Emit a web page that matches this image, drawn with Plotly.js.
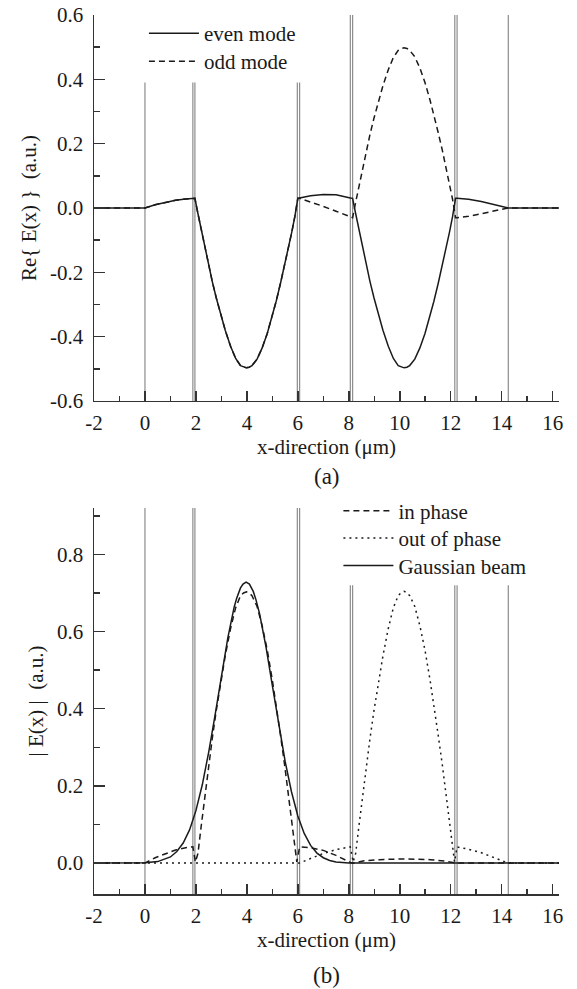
<!DOCTYPE html>
<html><head><meta charset="utf-8">
<script src="https://cdn.plot.ly/plotly-3.0.1.min.js"></script>
<style>html,body{margin:0;padding:0;background:#fff;} #chart{width:577px;height:989px;}</style>
</head><body><div id="chart"></div>
<script>
// ---------- panel (a): Re{E(x)} ----------
const xA = [-2, 0, 0.4, 0.8, 1.2, 1.6, 1.88, 1.96, 2.08, 2.2, 2.34, 2.5, 2.64, 2.8, 2.97, 3.15, 3.36, 3.56, 3.75, 3.87, 3.98, 4.09,
  4.2, 4.4, 4.6, 4.8, 5.0, 5.15, 5.32, 5.48, 5.62, 5.76, 5.88, 6.0, 6.07, 6.5, 7.0, 7.5, 8.06, 8.15,
  8.27, 8.39, 8.53, 8.69, 8.83, 8.99, 9.16, 9.34, 9.55, 9.75, 9.94, 10.06, 10.17, 10.28, 10.39, 10.59, 10.79, 10.99,
  11.19, 11.34, 11.51, 11.67, 11.81, 11.95, 12.07, 12.19, 12.25, 12.7, 13.2, 13.7, 14.26, 16.25];
const evenMode = [0, 0, 0.01, 0.018, 0.024, 0.028, 0.03, 0.03, -0.018, -0.065, -0.12, -0.178, -0.228, -0.28, -0.332, -0.38, -0.43, -0.468, -0.49, -0.495, -0.497, -0.495,
  -0.49, -0.47, -0.435, -0.39, -0.335, -0.29, -0.234, -0.18, -0.13, -0.076, -0.028, 0.03, 0.031, 0.038, 0.042, 0.041, 0.031, 0.03,
  -0.018, -0.065, -0.12, -0.178, -0.228, -0.28, -0.332, -0.38, -0.43, -0.468, -0.49, -0.495, -0.497, -0.495, -0.49, -0.47, -0.435, -0.39,
  -0.335, -0.29, -0.234, -0.18, -0.13, -0.076, -0.028, 0.03, 0.03, 0.027, 0.02, 0.01, 0, 0];
const oddMode = [0, 0, 0.01, 0.018, 0.024, 0.028, 0.03, 0.03, -0.018, -0.065, -0.12, -0.178, -0.228, -0.28, -0.332, -0.38, -0.43, -0.468, -0.49, -0.495, -0.497, -0.495,
  -0.49, -0.47, -0.435, -0.39, -0.335, -0.29, -0.234, -0.18, -0.13, -0.076, -0.028, 0.03, 0.03, 0.019, 0.005, -0.01, -0.027, -0.03,
  0.018, 0.065, 0.12, 0.178, 0.228, 0.28, 0.332, 0.38, 0.43, 0.468, 0.49, 0.496, 0.498, 0.496, 0.49, 0.47, 0.435, 0.39,
  0.335, 0.29, 0.234, 0.18, 0.13, 0.076, 0.028, -0.03, -0.03, -0.026, -0.018, -0.009, 0, 0];

// ---------- panel (b): |E(x)| ----------
const xInPhase = [-2, 0, 0.4, 0.8, 1.2, 1.6, 1.88, 1.98, 2.08, 2.2, 2.34, 2.5, 2.64, 2.8, 2.97, 3.15, 3.36, 3.56, 3.75, 3.87, 3.98, 4.09,
  4.2, 4.4, 4.6, 4.8, 5.0, 5.15, 5.32, 5.48, 5.62, 5.76, 5.88, 5.96, 6.07, 6.5, 7.0, 7.5, 8.06, 8.15,
  8.6, 9.2, 10.17, 11.2, 11.8, 12.19, 16.25];
const inPhase = [0, 0, 0.014, 0.025, 0.034, 0.04, 0.042, 0.003, 0.025, 0.092, 0.17, 0.252, 0.322, 0.396, 0.47, 0.537, 0.608, 0.662, 0.693, 0.7, 0.703, 0.7,
  0.693, 0.665, 0.615, 0.552, 0.474, 0.41, 0.331, 0.255, 0.184, 0.107, 0.04, 0.003, 0.042, 0.04, 0.033, 0.02, 0.002, 0,
  0.006, 0.009, 0.011, 0.009, 0.005, 0, 0];
const xOutPhase = [-2, 6.0, 6.07, 6.5, 7.0, 7.5, 8.06, 8.17, 8.27, 8.39, 8.53, 8.69, 8.83, 8.99, 9.16, 9.34, 9.55, 9.75, 9.94, 10.06, 10.17, 10.28,
  10.39, 10.59, 10.79, 10.99, 11.19, 11.34, 11.51, 11.67, 11.81, 11.95, 12.07, 12.15, 12.25, 12.7, 13.2, 13.7, 14.26, 16.25];
const outPhase = [0, 0, 0, 0.012, 0.025, 0.035, 0.042, 0.003, 0.025, 0.092, 0.17, 0.252, 0.322, 0.396, 0.47, 0.537, 0.608, 0.662, 0.693, 0.701, 0.704, 0.701,
  0.693, 0.665, 0.615, 0.552, 0.474, 0.41, 0.331, 0.255, 0.184, 0.107, 0.04, 0.003, 0.042, 0.036, 0.027, 0.015, 0, 0];
const xGauss = [-2, -0.5, 0, 0.5, 1.0, 1.25, 1.5, 1.75, 2.0, 2.25, 2.5, 2.75, 3.0, 3.25, 3.5, 3.6, 3.75, 3.85, 3.97,
  4.1, 4.25, 4.35, 4.5, 4.75, 5.0, 5.25, 5.5, 5.75, 6.0, 6.25, 6.5, 6.75, 7.0, 7.25, 7.5, 8.0, 16.25];
const gaussBeam = [0, 0, 0.001, 0.004, 0.016, 0.03, 0.052, 0.086, 0.136, 0.203, 0.287, 0.383, 0.486, 0.583, 0.663, 0.686, 0.713, 0.723, 0.728,
  0.723, 0.704, 0.684, 0.646, 0.56, 0.46, 0.358, 0.264, 0.185, 0.122, 0.077, 0.046, 0.026, 0.014, 0.007, 0.003, 0, 0];

// layer boundaries of the structure (vertical grey lines)
const layerEdges = [0, 1.88, 1.96, 5.98, 6.07, 8.06, 8.15, 12.16, 12.25, 14.26];

// ticks
const xTickVals = [-2, 0, 2, 4, 6, 8, 10, 12, 14, 16];
const xTickText = ["-2", "0", "2", "4", "6", "8", "10", "12", "14", "16"];
const xMinorVals = [-1, 1, 3, 5, 7, 9, 11, 13, 15];
const yaTickVals = [-0.6, -0.4, -0.2, 0, 0.2, 0.4, 0.6];
const yaTickText = ["-0.6", "-0.4", "-0.2", "0.0", "0.2", "0.4", "0.6"];
const yaMinorVals = [-0.5, -0.3, -0.1, 0.1, 0.3, 0.5];
const ybTickVals = [0, 0.2, 0.4, 0.6, 0.8];
const ybTickText = ["0.0", "0.2", "0.4", "0.6", "0.8"];
const ybMinorVals = [0.1, 0.3, 0.5, 0.7, 0.9];

const FONT = "'Liberation Serif', Tinos, 'DejaVu Serif', 'Noto Serif', Times, serif";
const INK = "#1a1a1a";
const AX = "#333333";
const GREY = "#8c8c8c";

const traces = [
  {x: xA, y: evenMode, name: "even mode", type: "scatter", mode: "lines", xaxis: "x", yaxis: "y", legend: "legend",
   line: {color: INK, width: 1.5}},
  {x: xA, y: oddMode, name: "odd mode", type: "scatter", mode: "lines", xaxis: "x", yaxis: "y", legend: "legend2",
   line: {color: INK, width: 1.5, dash: "6px,4px"}},
  {x: xInPhase, y: inPhase, name: "in phase", type: "scatter", mode: "lines", xaxis: "x2", yaxis: "y2", legend: "legend3",
   line: {color: INK, width: 1.5, dash: "6px,4px"}},
  {x: xOutPhase, y: outPhase, name: "out of phase", type: "scatter", mode: "lines", xaxis: "x2", yaxis: "y2", legend: "legend4",
   line: {color: INK, width: 1.5, dash: "2px,4px"}},
  {x: xGauss, y: gaussBeam, name: "Gaussian beam", type: "scatter", mode: "lines", xaxis: "x2", yaxis: "y2", legend: "legend5",
   line: {color: INK, width: 1.5}}
];

const shapes = [];
layerEdges.forEach((e, i) => {
  shapes.push({type: "line", xref: "x", yref: "y", x0: e, x1: e, y0: -0.6, y1: i < 5 ? 0.39 : 0.6,
    line: {color: GREY, width: 1.2}, layer: "below"});
  shapes.push({type: "line", xref: "x2", yref: "y2", x0: e, x1: e, y0: -0.08, y1: i < 5 ? 0.92 : 0.72,
    line: {color: GREY, width: 1.2}, layer: "below"});
});

function xAxis(anchor) {
  return {
    anchor: anchor, domain: [0, 1], range: [-2, 16.25],
    tickmode: "array", tickvals: xTickVals, ticktext: xTickText,
    ticks: "inside", ticklen: 10, tickwidth: 1.5, tickcolor: AX, ticklabelstandoff: 2,
    minor: {tickmode: "array", tickvals: xMinorVals, ticks: "inside", ticklen: 5, tickwidth: 1.5, tickcolor: AX, showgrid: false},
    showline: true, linecolor: AX, linewidth: 1.5, showgrid: false, zeroline: false,
    tickfont: {family: FONT, size: 21, color: INK},
    title: {text: "x-direction (\u03bcm)", font: {family: FONT, size: 21, color: INK}, standoff: 0}
  };
}
function yAxis(anchor, domain, range, tv, tt, mv, title) {
  return {
    anchor: anchor, domain: domain, range: range,
    tickmode: "array", tickvals: tv, ticktext: tt,
    ticks: "inside", ticklen: 11, tickwidth: 1.5, tickcolor: AX, ticklabelstandoff: 5,
    minor: {tickmode: "array", tickvals: mv, ticks: "inside", ticklen: 6, tickwidth: 1.5, tickcolor: AX, showgrid: false},
    showline: true, linecolor: AX, linewidth: 1.5, showgrid: false, zeroline: false,
    tickfont: {family: FONT, size: 21, color: INK},
    title: {text: title, font: {family: FONT, size: 21, color: INK}, standoff: 7}
  };
}
function legendAt(x, y) {
  return {x: x, y: y, xanchor: "left", yanchor: "top", bgcolor: "rgba(0,0,0,0)", borderwidth: 0,
    font: {family: FONT, size: 21, color: INK}, itemwidth: 50};
}

const layout = {
  width: 577, height: 989,
  margin: {l: 94, r: 18, t: 15, b: 95},
  paper_bgcolor: "#ffffff", plot_bgcolor: "#ffffff",
  font: {family: FONT, size: 21, color: INK},
  showlegend: true,
  xaxis: xAxis("y"),
  yaxis: yAxis("x", [0.5609, 1], [-0.6, 0.6], yaTickVals, yaTickText, yaMinorVals, "Re{ E(x) }\u00a0\u00a0(a.u.)"),
  xaxis2: xAxis("y2"),
  yaxis2: yAxis("x2", [0, 0.4391], [-0.08, 0.92], ybTickVals, ybTickText, ybMinorVals, "|\u00a0E(x)\u00a0|\u00a0\u00a0(a.u.)"),
  legend: legendAt(0.1074, 1.0023),
  legend2: legendAt(0.1074, 0.9704),
  legend3: legendAt(0.5256, 0.4588),
  legend4: legendAt(0.5256, 0.4278),
  legend5: legendAt(0.5256, 0.3967),
  shapes: shapes,
  annotations: [
    {text: "(a)", xref: "paper", yref: "paper", x: 0.5, y: 0.4755, xanchor: "center", yanchor: "middle", showarrow: false,
     font: {family: FONT, size: 23, color: INK}},
    {text: "(b)", xref: "paper", yref: "paper", x: 0.5, y: -0.0922, xanchor: "center", yanchor: "middle", showarrow: false,
     font: {family: FONT, size: 23, color: INK}}
  ]
};

Plotly.newPlot("chart", traces, layout, {staticPlot: true, displayModeBar: false});
</script>
</body></html>
